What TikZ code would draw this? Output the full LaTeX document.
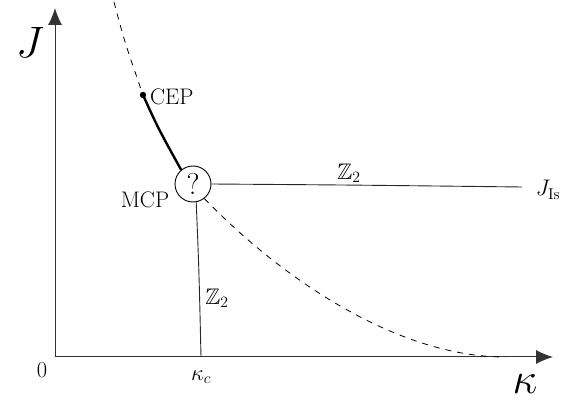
\documentclass[tikz,border=0pt]{standalone}
\usepackage{fix-cm}
\usepackage{amssymb}
\usetikzlibrary{arrows.meta}
\tikzset{
  axis/.style={line width=1pt, draw=black!80, -{Latex[length=17pt,width=14pt]}},
  thinline/.style={line width=0.9pt, draw=black!85},
  dashline/.style={line width=0.8pt, dash pattern=on 6pt off 6pt},
  thickline/.style={line width=2.4pt},
  lbl/.style={inner sep=0pt, font=\fontsize{22.5}{26}\selectfont},
  biglbl/.style={inner sep=0pt, font=\fontsize{44}{50}\selectfont},
}
\begin{document}
\begin{tikzpicture}[x=1pt,y=-1pt]
\useasboundingbox (0,0) rectangle (568,403);
% axes
\coordinate (o) at (55,357);
\coordinate (ytip) at (55,8);
\coordinate (xtip) at (553,357);
\draw[axis] (o) -- (ytip);
\draw[axis] (o) -- (xtip);
\node[biglbl] (J) at (30,42) {$J$};
\node[biglbl] (kappa) at (525,384) {$\kappa$};
\node[lbl] (zero) at (42,370) {$0$};
% MCP circle
\node[draw, circle, line width=0.9pt, minimum size=36pt, inner sep=0pt, font=\fontsize{30}{32}\selectfont] (mcp) at (193,184) {?};
\node[lbl] (mcplbl) at (145,200) {MCP};
% CEP
\coordinate (cep) at (143,95);
\fill (cep) circle (3.2pt);
\node[lbl, anchor=west] (ceplbl) at (150,97) {CEP};
% dashed first-order line
\coordinate (top) at (114,2);
\coordinate (dashend) at (505,357);
\draw[dashline] (top) .. controls (124,40) .. (cep);
\draw[thickline] (cep) .. controls (158,128) .. (mcp.130);
\draw[dashline] (mcp.-52) .. controls (285,282) and (400,357) .. (dashend);
% Z2 lines
\coordinate (jis) at (522,187);
\coordinate (kc) at (201,357);
\draw[thinline] (mcp.east) .. controls (350,185) .. (jis);
\draw[thinline] (mcp.-80) .. controls (199,270) .. (kc);
\node[lbl] (z2a) at (349,173) {$\mathbb{Z}_2$};
\node[lbl] (z2b) at (217,298) {$\mathbb{Z}_2$};
\node[lbl] (jislbl) at (548,190) {$J_{\mathrm{Is}}$};
\node[lbl] (kclbl) at (201,377) {$\kappa_c$};
\end{tikzpicture}
\end{document}
